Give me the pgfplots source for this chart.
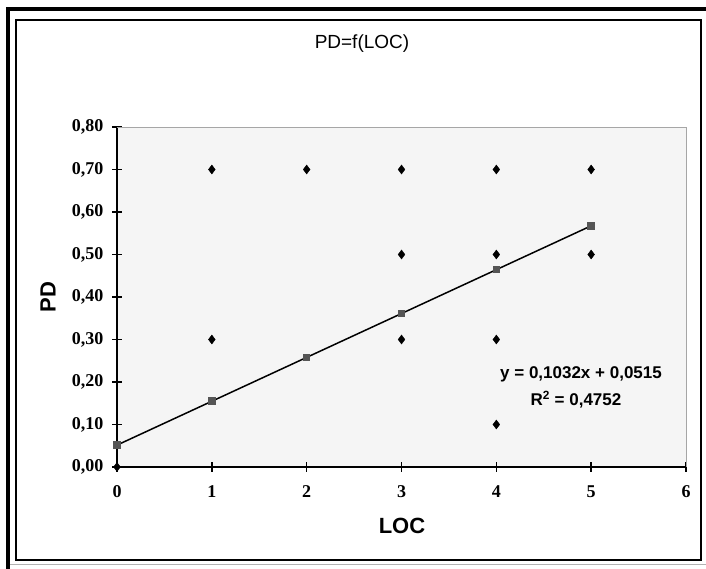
\documentclass[border=0pt]{standalone}
\usepackage{fontspec}
\setmainfont{Liberation Serif}
\newfontfamily\arialfont{Liberation Sans}
\usepackage{pgfplots}
\pgfplotsset{compat=1.18}

\definecolor{plotbg}{HTML}{F5F5F5}
\definecolor{trendmark}{HTML}{555555}

\begin{document}
\begin{tikzpicture}[x=1pt,y=1pt]
\useasboundingbox (0,0) rectangle (706,569);
% window frame
\draw[line width=4pt] (8,0) -- (8,562);
\draw[line width=4pt] (6,560) -- (706,560);
\draw[line width=2pt] (16,8.5) rectangle (701,549);
\draw[gray!60,line width=1pt] (10,4) -- (706,4);

\node[font=\arialfont\fontsize{19}{22}\selectfont] at (362,525) {PD=f(LOC)};
\node[font=\arialfont\bfseries\fontsize{22}{25}\selectfont,rotate=90] at (48,272) {PD};
\node[font=\arialfont\bfseries\fontsize{22}{25}\selectfont] at (402,43.5) {LOC};

\begin{axis}[
    at={(117pt,102pt)}, anchor=south west,
    scale only axis,
    width=569pt, height=340pt,
    xmin=0, xmax=6, ymin=0, ymax=0.8,
    xtick={0,1,2,3,4,5,6},
    ytick={0,0.1,0.2,0.3,0.4,0.5,0.6,0.7,0.8},
    axis lines=left,
    axis line style={-, line width=2pt, black},
    axis background/.style={fill=plotbg},
    tick style={black, line width=1.5pt},
    major tick length=10pt,
    tick align=center,
    tick label style={font=\bfseries\fontsize{18}{20}\selectfont},
    xticklabel style={yshift=-10pt},
    yticklabel style={xshift=-5pt},
    /pgf/number format/assume math mode=true,
    yticklabel={\pgfmathprintnumber[fixed,fixed zerofill,precision=2,use comma]{\tick}},
    xticklabel={\pgfmathprintnumber[fixed,precision=0]{\tick}},
    clip=false,
]
\draw[gray!70, line width=1pt] (rel axis cs:0,1) -- (rel axis cs:1,1) -- (rel axis cs:1,0);

% trend line
\addplot[black, line width=1.5pt, mark=square*, mark size=3pt,
    mark options={fill=trendmark, draw=trendmark}]
    coordinates {(0,0.0515)(1,0.1547)(2,0.2579)(3,0.3611)(4,0.4643)(5,0.5675)};

% observations
\addplot[only marks, mark=diamond*, mark size=4.5pt, black]
    coordinates {
    (0,0.00)
    (1,0.70)(1,0.30)
    (2,0.70)
    (3,0.70)(3,0.50)(3,0.30)
    (4,0.70)(4,0.50)(4,0.30)(4,0.10)
    (5,0.70)(5,0.50)
    };

\node[font=\arialfont\bfseries\fontsize{17}{19}\selectfont] at (axis cs:4.893,0.219) {y = 0,1032x + 0,0515};
\node[font=\arialfont\bfseries\fontsize{17}{19}\selectfont] at (axis cs:4.84,0.158) {R\textsuperscript{2} = 0,4752};
\end{axis}
\end{tikzpicture}
\end{document}
